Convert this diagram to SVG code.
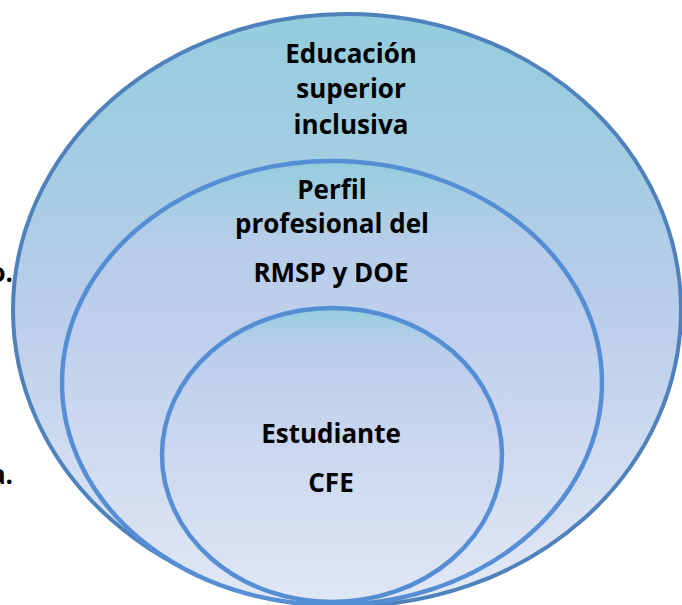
<svg xmlns="http://www.w3.org/2000/svg" width="682" height="605" viewBox="0 0 682 605">
  <style>
    .lbl { font-family: "Open Sans", "Liberation Sans", sans-serif; font-weight: bold; font-size: 26px; fill: #000; text-anchor: middle; }
    .side { font-family: "Open Sans", "Liberation Sans", sans-serif; font-weight: bold; font-size: 26px; fill: #000; text-anchor: end; }
    .outer { stroke: #4F81BD; stroke-width: 4; }
    .inner { stroke: #558ED5; stroke-width: 4.5; }
  </style>
  <defs>
    <linearGradient id="gOuter" x1="0" y1="0" x2="0" y2="1">
      <stop offset="0" stop-color="#93CDDD"/>
      <stop offset="0.25" stop-color="#A4CDE2"/>
      <stop offset="0.5" stop-color="#BACDEA"/>
      <stop offset="1" stop-color="#E4EAF6"/>
    </linearGradient>
    <linearGradient id="gMid" x1="0" y1="0" x2="0" y2="1">
      <stop offset="0" stop-color="#93CDDD"/>
      <stop offset="0.18" stop-color="#B6CDE9"/>
      <stop offset="0.4" stop-color="#C0D0EC"/>
      <stop offset="1" stop-color="#E2E8F5"/>
    </linearGradient>
    <linearGradient id="gIn" x1="0" y1="0" x2="0" y2="1">
      <stop offset="0" stop-color="#93CDDD"/>
      <stop offset="0.12" stop-color="#B8CDE9"/>
      <stop offset="0.3" stop-color="#C3D2ED"/>
      <stop offset="1" stop-color="#E0E7F5"/>
    </linearGradient>
  </defs>

  <g id="side-text">
    <text class="side" x="13" y="282">o.</text>
    <text class="side" x="13" y="484">a.</text>
  </g>

  <g id="educacion-superior-inclusiva">
    <ellipse class="outer" cx="347" cy="310" rx="334" ry="296" fill="url(#gOuter)"/>
    <text class="lbl" x="351" y="63">Educación</text>
    <text class="lbl" x="351" y="98">superior</text>
    <text class="lbl" x="351" y="134">inclusiva</text>
  </g>

  <g id="perfil-profesional">
    <ellipse class="inner" cx="332" cy="383" rx="270" ry="222" fill="url(#gMid)"/>
    <text class="lbl" x="332" y="199">Perfil</text>
    <text class="lbl" x="332" y="233">profesional del</text>
    <text class="lbl" x="331" y="282">RMSP y DOE</text>
  </g>

  <g id="estudiante-cfe">
    <ellipse class="inner" cx="332" cy="455" rx="170" ry="147" fill="url(#gIn)"/>
    <text class="lbl" x="331" y="443">Estudiante</text>
    <text class="lbl" x="331" y="492">CFE</text>
  </g>

  <g id="connectors"/>
</svg>
